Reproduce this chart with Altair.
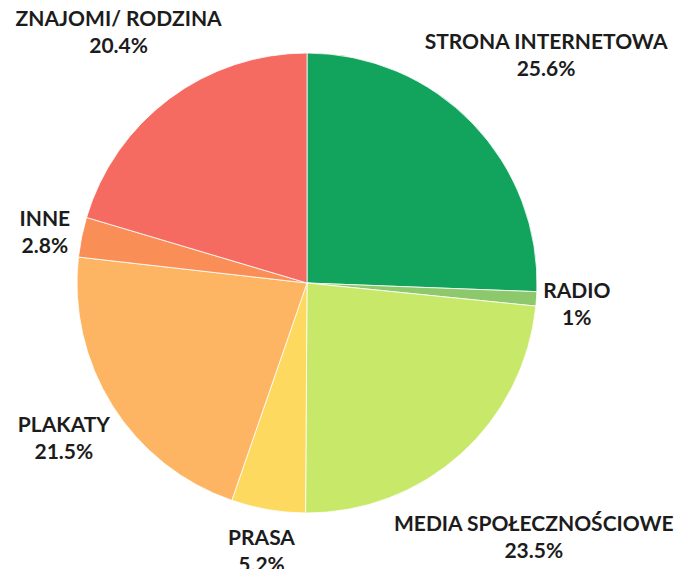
import math
import altair as alt
import pandas as pd

categories = ["STRONA INTERNETOWA", "RADIO", "MEDIA SPOŁECZNOŚCIOWE", "PRASA",
              "PLAKATY", "INNE", "ZNAJOMI/ RODZINA"]
values = [25.6, 1.0, 23.5, 5.2, 21.5, 2.8, 20.4]
colors = ["#12a35d", "#8dc96c", "#c8e86a", "#fdd95f", "#fdb563", "#f98f56", "#f56a61"]

R = 230
GAP = 10
CHAR_W = 11.5
HALF_H = 25

# derived label placement (Excel-like outside-end labels)
total = sum(values)
cum = 0.0
radii = []
mids = []
for cat, v in zip(categories, values):
    mid = (cum + v / 2) / total * 2 * math.pi
    cum += v
    mids.append(mid)
    hw = len(cat) * CHAR_W / 2
    radii.append(R + GAP + abs(math.sin(mid)) * hw + abs(math.cos(mid)) * HALF_H)

df = pd.DataFrame({
    "cat": categories,
    "value": values,
    "order": list(range(len(categories))),
    "label": [[c, f"{v:g}%"] for c, v in zip(categories, values)],
    "lr": radii,
    "mid": mids,
})

pie = alt.Chart(df).mark_arc(outerRadius=R, stroke="#ffffff", strokeWidth=0.8).encode(
    theta=alt.Theta("value:Q", stack=True, scale=alt.Scale(domain=[0, total])),
    order=alt.Order("order:Q"),
    color=alt.Color("cat:N", scale=alt.Scale(domain=categories, range=colors), legend=None),
)

text = alt.Chart(df).mark_text(font="Lato", fontWeight="bold", fontSize=21, lineHeight=27,
                               color="#1c1c1c", align="center", baseline="middle",
                               dy=-10).encode(
    text="label",
    theta=alt.Theta("mid:Q", scale=None, stack=False),
    radius=alt.Radius("lr:Q", scale=None),
)

chart = alt.layer(pie, text).properties(
    width=614, height=566,
    autosize=alt.AutoSizeParams(type="none"),
    padding={"left": 0, "top": 0, "right": 64, "bottom": 3},
).configure_view(stroke=None).configure(background="#ffffff")

chart.save("out.html", embed_options={"renderer": "svg", "actions": False})
